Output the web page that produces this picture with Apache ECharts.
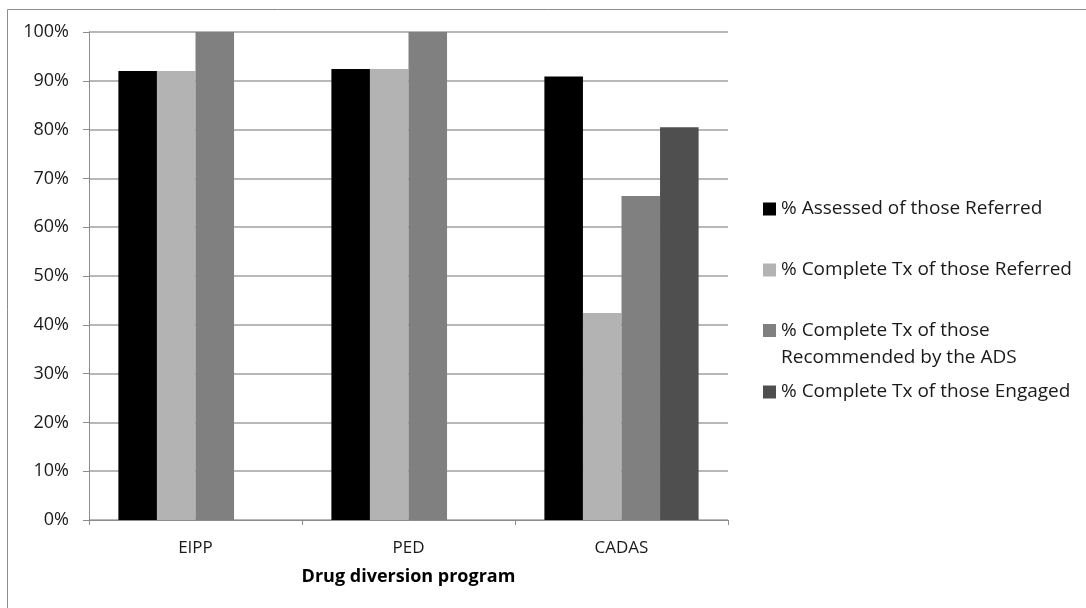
<!DOCTYPE html>
<html>
<head>
<meta charset="utf-8">
<script src="https://cdn.jsdelivr.net/npm/echarts@6/dist/echarts.min.js"></script>
<style>
html,body{margin:0;padding:0;background:#fff;}
#main{width:1086px;height:608px;}
</style>
</head>
<body>
<div id="main"></div>
<script>
var categories = ['EIPP', 'PED', 'CADAS'];
var seriesNames = [
  '% Assessed of those Referred',
  '% Complete Tx of those Referred',
  '% Complete Tx of those\nRecommended by the ADS',
  '% Complete Tx of those Engaged'
];
var assessedReferred = [0.920, 0.924, 0.909];
var completeReferred = [0.920, 0.924, 0.424];
var completeRecommended = [1.000, 1.000, 0.664];
var completeEngaged = [null, null, 0.805];
var yTicks = [0, 0.1, 0.2, 0.3, 0.4, 0.5, 0.6, 0.7, 0.8, 0.9, 1.0];
var colors = ['#000000', '#b3b3b3', '#808080', '#4f4f4f'];
var FONT = '"Open Sans", sans-serif';

var chart = echarts.init(document.getElementById('main'), null, {renderer: 'canvas'});

var seriesData = [assessedReferred, completeReferred, completeRecommended, completeEngaged];
var series = seriesData.map(function (d, i) {
  return {
    name: seriesNames[i],
    type: 'bar',
    data: d,
    barGap: '0%',
    barCategoryGap: '27.6%',
    itemStyle: {color: colors[i]},
    emphasis: {disabled: true}
  };
});

var legendTops = [199, 260, 290, 382];
var legends = seriesNames.map(function (n, i) {
  var ts = {fontFamily: FONT, fontSize: 19, color: '#1a1a1a', lineHeight: 20};
  var fmt = null;
  if (i === 2) {
    ts = {fontFamily: FONT, fontSize: 19, color: '#1a1a1a', lineHeight: 27};
    fmt = function (name) { return '\n' + name; };
  }
  var l = {
    data: [n],
    left: 763,
    top: legendTops[i],
    orient: 'vertical',
    padding: 0,
    itemWidth: 13,
    itemHeight: 13,
    itemGap: 0,
    icon: 'rect',
    selectedMode: false,
    textStyle: ts
  };
  if (fmt) l.formatter = fmt;
  return l;
});

chart.setOption({
  animation: false,
  backgroundColor: '#ffffff',
  color: colors,
  graphic: [{
    type: 'rect',
    shape: {x: 7.5, y: 9.5, width: 1100, height: 620},
    style: {fill: 'none', stroke: '#8c8c8c', lineWidth: 1},
    silent: true,
    z: -1
  }],
  legend: legends,
  grid: {left: 89, right: 358, top: 32, bottom: 88, containLabel: false},
  xAxis: {
    type: 'category',
    data: categories,
    name: 'Drug diversion program',
    nameLocation: 'middle',
    nameGap: 48,
    nameTextStyle: {fontFamily: FONT, fontSize: 18, fontWeight: 'bold', color: '#000'},
    axisLine: {lineStyle: {color: '#8c8c8c', width: 1}},
    axisTick: {show: true, length: 5, lineStyle: {color: '#8c8c8c'}},
    axisLabel: {fontFamily: FONT, fontSize: 17, color: '#1a1a1a', margin: 20}
  },
  yAxis: {
    type: 'value',
    min: 0,
    max: 1,
    interval: 0.1,
    axisLine: {show: true, lineStyle: {color: '#8c8c8c', width: 1}},
    axisTick: {show: true, length: 6, lineStyle: {color: '#8c8c8c'}},
    splitLine: {show: true, lineStyle: {color: '#a0a0a0', width: 1.5}},
    axisLabel: {
      fontFamily: FONT, fontSize: 18, color: '#1a1a1a', margin: 20,
      formatter: function (v) {
        for (var i = 0; i < yTicks.length; i++) {
          if (Math.abs(yTicks[i] - v) < 1e-9) return Math.round(yTicks[i] * 100) + '%';
        }
        return '';
      }
    }
  },
  series: series
});
</script>
</body>
</html>
